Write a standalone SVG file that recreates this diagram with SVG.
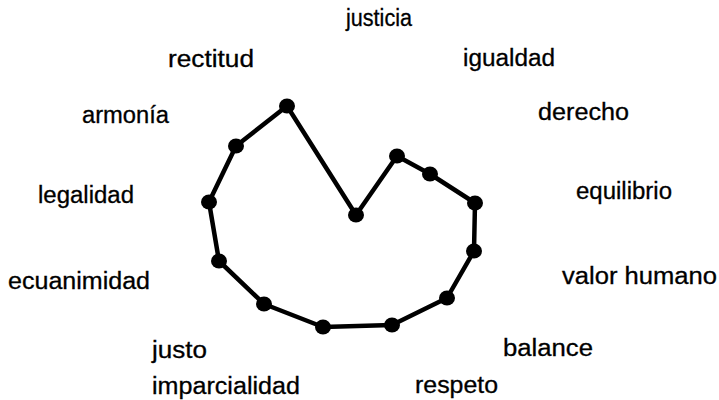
<svg xmlns="http://www.w3.org/2000/svg" width="719" height="400" viewBox="0 0 719 400">
<style>
.lbl{font-family:"Liberation Sans",Arial,sans-serif;font-size:23px;fill:#000;stroke:#000;stroke-width:0.3;}
.pt{fill:#000;}
.edge{fill:none;stroke:#000;stroke-width:4.5;stroke-linejoin:round;}
</style>
<rect width="719" height="400" fill="#fff"/>
<g id="connectors">
<polygon class="edge" points="287,106 356,215 397,156 430,174 475,203 474,251 447,298 392,325 323,327 264,304 219,261 209,202 236,146"/>
</g>
<g id="points">
<g id="p1"><ellipse class="pt" cx="287" cy="106" rx="8" ry="7.5"/></g>
<g id="p2"><ellipse class="pt" cx="356" cy="215" rx="8" ry="7.5"/></g>
<g id="p3"><ellipse class="pt" cx="397" cy="156" rx="8" ry="7.5"/></g>
<g id="p4"><ellipse class="pt" cx="430" cy="174" rx="8" ry="7.5"/></g>
<g id="p5"><ellipse class="pt" cx="475" cy="203" rx="8" ry="7.5"/></g>
<g id="p6"><ellipse class="pt" cx="474" cy="251" rx="8" ry="7.5"/></g>
<g id="p7"><ellipse class="pt" cx="447" cy="298" rx="8" ry="7.5"/></g>
<g id="p8"><ellipse class="pt" cx="392" cy="325" rx="8" ry="7.5"/></g>
<g id="p9"><ellipse class="pt" cx="323" cy="327" rx="8" ry="7.5"/></g>
<g id="p10"><ellipse class="pt" cx="264" cy="304" rx="8" ry="7.5"/></g>
<g id="p11"><ellipse class="pt" cx="219" cy="261" rx="8" ry="7.5"/></g>
<g id="p12"><ellipse class="pt" cx="209" cy="202" rx="8" ry="7.5"/></g>
<g id="p13"><ellipse class="pt" cx="236" cy="146" rx="8" ry="7.5"/></g>
</g>
<g id="labels">
<g id="l-justicia"><text class="lbl" x="346" y="26" textLength="66" lengthAdjust="spacingAndGlyphs">justicia</text></g>
<g id="l-rectitud"><text class="lbl" x="168" y="67" textLength="86" lengthAdjust="spacingAndGlyphs">rectitud</text></g>
<g id="l-igualdad"><text class="lbl" x="463" y="66" textLength="92" lengthAdjust="spacingAndGlyphs">igualdad</text></g>
<g id="l-armonia"><text class="lbl" x="82" y="123" textLength="87" lengthAdjust="spacingAndGlyphs">armonía</text></g>
<g id="l-derecho"><text class="lbl" x="538" y="120" textLength="91" lengthAdjust="spacingAndGlyphs">derecho</text></g>
<g id="l-legalidad"><text class="lbl" x="38" y="203" textLength="96" lengthAdjust="spacingAndGlyphs">legalidad</text></g>
<g id="l-equilibrio"><text class="lbl" x="576" y="199" textLength="96" lengthAdjust="spacingAndGlyphs">equilibrio</text></g>
<g id="l-ecuanimidad"><text class="lbl" x="8" y="289" textLength="142" lengthAdjust="spacingAndGlyphs">ecuanimidad</text></g>
<g id="l-valor"><text class="lbl" x="562" y="284" textLength="155" lengthAdjust="spacingAndGlyphs">valor humano</text></g>
<g id="l-justo"><text class="lbl" x="152" y="358" textLength="55" lengthAdjust="spacingAndGlyphs">justo</text></g>
<g id="l-balance"><text class="lbl" x="503" y="356" textLength="90" lengthAdjust="spacingAndGlyphs">balance</text></g>
<g id="l-imparcialidad"><text class="lbl" x="152" y="394" textLength="148" lengthAdjust="spacingAndGlyphs">imparcialidad</text></g>
<g id="l-respeto"><text class="lbl" x="415" y="393" textLength="83" lengthAdjust="spacingAndGlyphs">respeto</text></g>
</g>
</svg>
